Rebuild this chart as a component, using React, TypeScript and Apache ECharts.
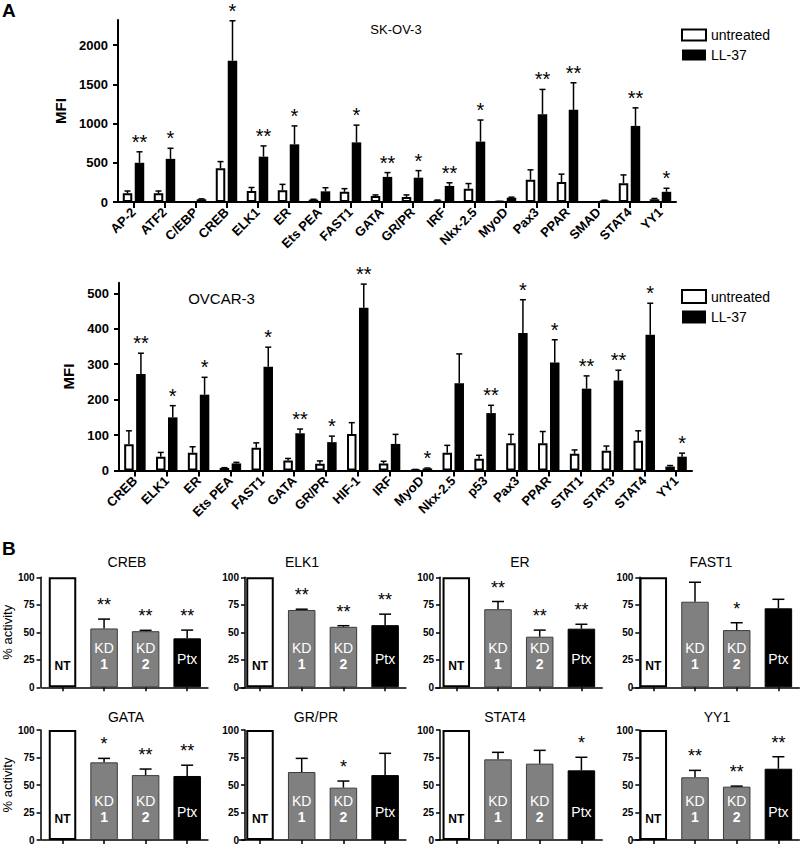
import React, { useEffect, useRef } from "react";
import * as echarts from "echarts";

const FONT = '"Liberation Sans", Arial, Helvetica, sans-serif';

// ---------- Panel A, SK-OV-3 ----------
const skCategories = ["AP-2", "ATF2", "C/EBP", "CREB", "ELK1", "ER", "Ets PEA", "FAST1", "GATA", "GR/PR", "IRF", "Nkx-2.5", "MyoD", "Pax3", "PPAR", "SMAD", "STAT4", "YY1"];
const skUntreated = [110, 110, 0, 430, 140, 150, 30, 130, 75, 65, 20, 170, 5, 285, 255, 0, 240, 35];
const skUntreatedErr = [140, 140, 0, 515, 185, 225, 35, 170, 90, 90, 25, 235, 8, 410, 355, 0, 345, 45];
const skLL37 = [500, 550, 35, 1800, 578, 735, 136, 760, 320, 310, 205, 770, 55, 1120, 1175, 20, 970, 130];
const skLL37Err = [640, 685, 40, 2310, 715, 970, 182, 980, 375, 400, 245, 1045, 62, 1435, 1520, 22, 1200, 175];
const skSig = ["**", "*", "", "*", "**", "*", "", "*", "**", "*", "**", "*", "", "**", "**", "", "**", "*"];
const skTicks = [0, 500, 1000, 1500, 2000];

// ---------- Panel A, OVCAR-3 ----------
const ovCategories = ["CREB", "ELK1", "ER", "Ets PEA", "FAST1", "GATA", "GR/PR", "HIF-1", "IRF", "MyoD", "Nkx-2.5", "p53", "Pax3", "PPAR", "STAT1", "STAT3", "STAT4", "YY1"];
const ovUntreated = [74, 39, 50, 7, 64, 28, 19, 103, 20, 2, 50, 33, 77, 77, 47, 56, 84, 11];
const ovUntreatedErr = [112, 51, 67, 8, 78, 34, 27, 135, 26, 3, 71, 43, 102, 110, 58, 69, 112, 14];
const ovLL37 = [272, 150, 214, 20, 293, 105, 80, 459, 75, 6, 246, 162, 388, 305, 231, 254, 383, 39];
const ovLL37Err = [331, 183, 263, 23, 348, 117, 97, 526, 102, 7, 329, 184, 482, 369, 267, 283, 472, 49];
const ovSig = ["**", "*", "*", "", "*", "**", "*", "**", "", "*", "", "**", "*", "*", "**", "**", "*", "*"];
const ovTicks = [0, 100, 200, 300, 400, 500];

// ---------- Panel B ----------
const bCategories = ["NT", "KD1", "KD2", "Ptx"];
const crebActivity = [100, 53.5, 51, 44.5];
const crebErr = [100, 62, 51.8, 52];
const crebSig = ["", "**", "**", "**"];
const elk1Activity = [100, 70.3, 55, 56.5];
const elk1Err = [100, 71, 56, 66.5];
const elk1Sig = ["", "**", "**", "**"];
const erActivity = [100, 71, 46, 53.3];
const erErr = [100, 78, 52, 57.3];
const erSig = ["", "**", "**", "**"];
const fast1Activity = [100, 77.8, 52, 71.8];
const fast1Err = [100, 95.5, 58.7, 80];
const fast1Sig = ["", "", "*", ""];
const gataActivity = [100, 70.6, 59, 58.2];
const gataErr = [100, 74.2, 64.5, 68];
const gataSig = ["", "*", "**", "**"];
const grprActivity = [100, 61.8, 47.6, 59];
const grprErr = [100, 74.2, 53.6, 78.8];
const grprSig = ["", "", "*", ""];
const stat4Activity = [100, 73.3, 69.4, 63.3];
const stat4Err = [100, 79.7, 81.5, 75.2];
const stat4Sig = ["", "", "", "*"];
const yy1Activity = [100, 57, 48.5, 64.8];
const yy1Err = [100, 63.3, 49, 75.7];
const yy1Sig = ["", "**", "**", "**"];

const bPanels = [
  { title: "CREB", vals: crebActivity, errs: crebErr, sig: crebSig },
  { title: "ELK1", vals: elk1Activity, errs: elk1Err, sig: elk1Sig },
  { title: "ER", vals: erActivity, errs: erErr, sig: erSig },
  { title: "FAST1", vals: fast1Activity, errs: fast1Err, sig: fast1Sig },
  { title: "GATA", vals: gataActivity, errs: gataErr, sig: gataSig },
  { title: "GR/PR", vals: grprActivity, errs: grprErr, sig: grprSig },
  { title: "STAT4", vals: stat4Activity, errs: stat4Err, sig: stat4Sig },
  { title: "YY1", vals: yy1Activity, errs: yy1Err, sig: yy1Sig },
];

// ---------- layout ----------
const B_COL_LEFT = [41.15, 239.15, 435.45, 632.45];
const B_AXIS_X = [40, 245, 440, 639.3];
const B_COL_W = 166.8;
const B_ROW_TOP = [577.3, 730];
const B_ROW_H = 110;
const B_TITLE_X = [127, 302, 520, 711, 126, 316, 505, 717];

function errorSeries(g: number, vals: number[], errs: number[], offset: number, capHalf: number, lw: number) {
  return {
    type: "custom",
    xAxisIndex: g,
    yAxisIndex: g,
    clip: false,
    silent: true,
    z: 5,
    data: vals.map((v, i) => [i, v, errs[i]]),
    encode: { x: 0, y: [1, 2] },
    renderItem: (params: any, api: any) => {
      const i = api.value(0);
      const v = api.value(1);
      const e = api.value(2);
      if (!(e > v)) return null;
      const p0 = api.coord([i, v]);
      const p1 = api.coord([i, e]);
      const cx = p0[0] + offset;
      return {
        type: "group",
        children: [
          { type: "line", shape: { x1: cx, y1: p0[1], x2: cx, y2: p1[1] }, style: { stroke: "#000", lineWidth: lw } },
          { type: "line", shape: { x1: cx - capHalf, y1: p1[1], x2: cx + capHalf, y2: p1[1] }, style: { stroke: "#000", lineWidth: lw } },
        ],
      };
    },
  };
}

function sigSeries(g: number, errs: number[], sig: string[], offset: number, gap: number, fontSize: number) {
  return {
    type: "custom",
    xAxisIndex: g,
    yAxisIndex: g,
    clip: false,
    silent: true,
    z: 6,
    data: errs.map((e, i) => [i, e]),
    encode: { x: 0, y: 1 },
    renderItem: (params: any, api: any) => {
      const s = sig[params.dataIndex];
      if (!s) return null;
      const p = api.coord([api.value(0), api.value(1)]);
      return {
        type: "text",
        x: p[0] + offset,
        y: p[1] - gap,
        style: {
          text: s,
          fill: "#000",
          fontSize,
          fontFamily: FONT,
          align: "center",
          verticalAlign: "middle",
        },
      };
    },
  };
}

const bFill = ["#ffffff", "#808080", "#808080", "#000000"];
const bBorder = ["#000000", "#3c3c3c", "#3c3c3c", "#000000"];

function bLabel(i: number) {
  const cat = bCategories[i];
  if (i === 0)
    return { show: true, position: "insideBottom", distance: 14, formatter: cat, color: "#000", fontWeight: "bold", fontSize: 12, lineHeight: 14, fontFamily: FONT };
  if (cat.startsWith("KD"))
    return {
      show: true,
      position: "insideBottom",
      distance: 15,
      formatter: "KD\n{n|" + cat.slice(2) + "}",
      color: "#fff",
      fontSize: 14,
      lineHeight: 16,
      fontFamily: FONT,
      rich: { n: { fontWeight: "bold", fontSize: 14, lineHeight: 16, color: "#fff", fontFamily: FONT } },
    };
  return { show: true, position: "insideBottom", distance: 20, formatter: cat, color: "#fff", fontSize: 14, lineHeight: 16, fontFamily: FONT };
}

function buildOption() {
  const axisLineBig = { show: true, lineStyle: { color: "#000", width: 2 } };
  const grid: any[] = [
    { left: 118, top: 20, width: 558, height: 182 },
    { left: 119, top: 282.7, width: 573, height: 187.8 },
  ];
  const xAxis: any[] = [];
  const yAxis: any[] = [];
  const series: any[] = [];

  const big = [
    { cats: skCategories, u: skUntreated, ue: skUntreatedErr, l: skLL37, le: skLL37Err, sig: skSig, max: 2320, ticks: skTicks },
    { cats: ovCategories, u: ovUntreated, ue: ovUntreatedErr, l: ovLL37, le: ovLL37Err, sig: ovSig, max: 530, ticks: ovTicks },
  ];
  big.forEach((p, g) => {
    xAxis.push({
      type: "category",
      gridIndex: g,
      data: p.cats,
      axisLine: axisLineBig,
      axisTick: { show: true, alignWithLabel: true, length: 6, lineStyle: { color: "#000", width: 2 } },
      axisLabel: { rotate: 45, interval: 0, color: "#000", fontWeight: "bold", fontSize: 13, fontFamily: FONT, margin: 8 },
    });
    yAxis.push({
      type: "value",
      gridIndex: g,
      min: 0,
      max: p.max,
      axisLine: axisLineBig,
      axisTick: { show: true, length: 5, customValues: p.ticks, lineStyle: { color: "#000", width: 2 } },
      axisLabel: {
        customValues: p.ticks,
        formatter: (v: number) => String(v),
        color: "#000",
        fontWeight: "bold",
        fontSize: 13,
        fontFamily: FONT,
        margin: 10,
      },
      splitLine: { show: false },
      name: "MFI",
      nameLocation: "middle",
      nameGap: 41,
      nameTextStyle: { color: "#000", fontWeight: "bold", fontSize: 15, fontFamily: FONT },
    });
    series.push({
      type: "bar",
      name: "untreated",
      xAxisIndex: g,
      yAxisIndex: g,
      data: p.u,
      barWidth: 9.5,
      barGap: "26%",
      itemStyle: { color: "#ffffff", borderColor: "#000", borderWidth: 2 },
    });
    series.push({
      type: "bar",
      name: "LL-37",
      xAxisIndex: g,
      yAxisIndex: g,
      data: p.l,
      barWidth: 9.5,
      barGap: "26%",
      itemStyle: { color: "#000000", borderColor: "#000", borderWidth: 0 },
    });
    series.push(errorSeries(g, p.u, p.ue, -6, 3, 1.5));
    series.push(errorSeries(g, p.l, p.le, 6, 3, 1.5));
    series.push(sigSeries(g, p.le, p.sig, 6, 10, 20));
  });

  bPanels.forEach((p, k) => {
    const g = k + 2;
    const col = k % 4;
    const row = Math.floor(k / 4);
    grid.push({ left: B_COL_LEFT[col], top: B_ROW_TOP[row], width: B_COL_W, height: B_ROW_H });
    xAxis.push({
      type: "category",
      gridIndex: g,
      data: bCategories,
      axisLine: { show: true, lineStyle: { color: "#000", width: 1.5 } },
      axisTick: { show: true, alignWithLabel: true, length: 4, lineStyle: { color: "#000", width: 1.5 } },
      axisLabel: { show: false },
    });
    yAxis.push({
      type: "value",
      gridIndex: g,
      min: 0,
      max: 100,
      interval: 25,
      offset: B_COL_LEFT[col] - B_AXIS_X[col],
      axisLine: { show: true, lineStyle: { color: "#000", width: 1.5 } },
      axisTick: { show: true, length: 4, lineStyle: { color: "#000", width: 1.5 } },
      axisLabel: { color: "#000", fontWeight: "bold", fontSize: 10, fontFamily: FONT, margin: 6 },
      splitLine: { show: false },
      name: col === 0 ? "% activity" : "",
      nameLocation: "middle",
      nameGap: 24,
      nameTextStyle: { color: "#000", fontSize: 13, fontFamily: FONT },
    });
    series.push({
      type: "bar",
      name: p.title,
      xAxisIndex: g,
      yAxisIndex: g,
      barWidth: 27.5,
      data: p.vals.map((v, i) => ({
        value: v,
        itemStyle: { color: bFill[i], borderColor: bBorder[i], borderWidth: i === 0 ? 2 : 1 },
        label: bLabel(i),
      })),
    });
    series.push(errorSeries(g, p.vals, p.errs, 0, 6, 1.5));
    series.push(sigSeries(g, p.errs, p.sig, 0, 14, 18));
  });

  const graphic: any[] = [
    { type: "text", x: 2, y: 1, style: { text: "A", fontSize: 19, fontWeight: "bold", fontFamily: FONT, fill: "#000" } },
    { type: "text", x: 2, y: 539, style: { text: "B", fontSize: 19, fontWeight: "bold", fontFamily: FONT, fill: "#000" } },
    { type: "text", x: 396, y: 29, style: { text: "SK-OV-3", fontSize: 13, fontFamily: FONT, fill: "#000", align: "center", verticalAlign: "middle" } },
    { type: "text", x: 221.5, y: 298.5, style: { text: "OVCAR-3", fontSize: 15, fontFamily: FONT, fill: "#000", align: "center", verticalAlign: "middle" } },
  ];
  bPanels.forEach((p, k) => {
    const row = Math.floor(k / 4);
    graphic.push({
      type: "text",
      x: B_TITLE_X[k],
      y: row === 0 ? 562 : 717,
      style: { text: p.title, fontSize: 14, fontFamily: FONT, fill: "#000", align: "center", verticalAlign: "middle" },
    });
  });

  const legendCommon = {
    data: ["untreated", "LL-37"],
    orient: "vertical",
    icon: "rect",
    itemWidth: 24,
    padding: 0,
    textStyle: { color: "#000", fontSize: 14, fontFamily: FONT },
    selectedMode: false,
  };

  return {
    animation: false,
    backgroundColor: "#ffffff",
    textStyle: { fontFamily: FONT },
    grid,
    xAxis,
    yAxis,
    series,
    graphic,
    legend: [
      { ...legendCommon, left: 681, top: 28, itemHeight: 11, itemGap: 6 },
      { ...legendCommon, left: 681, top: 289, itemHeight: 13, itemGap: 6 },
    ],
  };
}

export default function App() {
  const ref = useRef<HTMLDivElement>(null);
  useEffect(() => {
    if (!ref.current) return;
    const chart = echarts.init(ref.current, undefined, { renderer: "svg" });
    chart.setOption(buildOption() as any);
    return () => chart.dispose();
  }, []);
  return <div ref={ref} style={{ position: "absolute", left: 0, top: 0, width: 800, height: 845, background: "#fff" }} />;
}
